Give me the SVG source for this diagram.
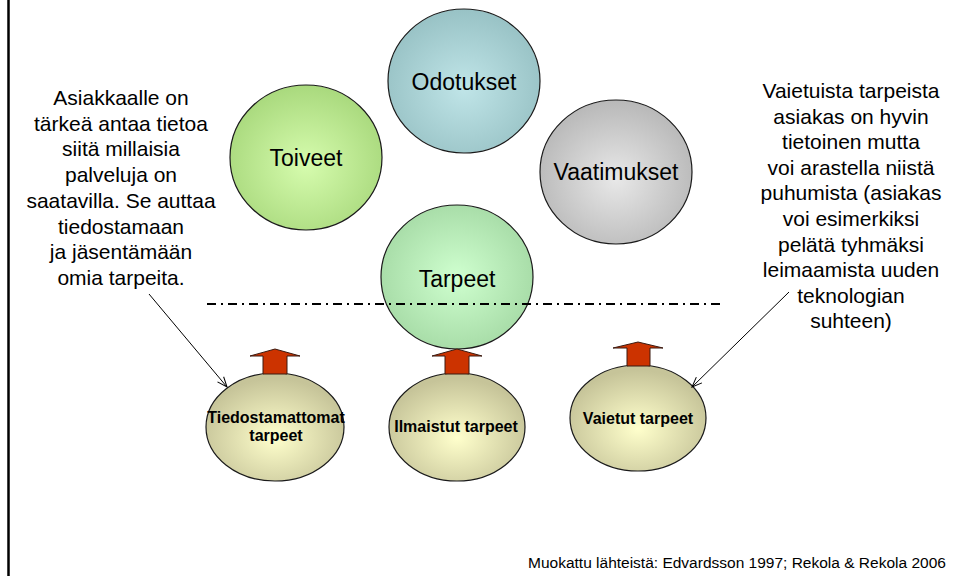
<svg xmlns="http://www.w3.org/2000/svg" width="959" height="576" viewBox="0 0 959 576">
<defs>
<radialGradient id="gBlue" cx="50%" cy="55%" r="55%"><stop offset="0" stop-color="#C0E5E8"/><stop offset="1" stop-color="#98C2C5"/></radialGradient>
<radialGradient id="gLime" cx="50%" cy="55%" r="55%"><stop offset="0" stop-color="#D6FCAE"/><stop offset="1" stop-color="#A9D97D"/></radialGradient>
<radialGradient id="gGray" cx="50%" cy="55%" r="55%"><stop offset="0" stop-color="#E8E8E8"/><stop offset="1" stop-color="#B8B8B8"/></radialGradient>
<radialGradient id="gMint" cx="50%" cy="50%" r="55%"><stop offset="0" stop-color="#CFFFCF"/><stop offset="1" stop-color="#A5DAA5"/></radialGradient>
<radialGradient id="gKhaki" cx="50%" cy="60%" r="55%"><stop offset="0" stop-color="#FFFFCC"/><stop offset="1" stop-color="#C6C499"/></radialGradient>
<marker id="open" markerWidth="12" markerHeight="10" refX="11" refY="5" orient="auto" markerUnits="userSpaceOnUse"><path d="M1,1 L11,5 L1,9" fill="none" stroke="#000" stroke-width="1"/></marker>
</defs>
<style>
.c{stroke:#1a1a1a;stroke-width:1.2}
.t{font-family:"Liberation Sans",Arial,sans-serif;fill:#000;text-anchor:middle}
.big{font-size:23px}
.side{font-size:21px}
.b{font-size:16px;font-weight:bold}
.arr{fill:#CC3300;stroke:#3a1a10;stroke-width:1}
.ptr{stroke:#000;stroke-width:1;fill:none}
</style>
<rect width="959" height="576" fill="#fff"/>
<line x1="8.5" y1="0" x2="8.5" y2="576" stroke="#000" stroke-width="2.5"/>

<g id="text-left" class="t side">
<text x="121" y="105">Asiakkaalle on</text>
<text x="121" y="130.7">tärkeä antaa tietoa</text>
<text x="121" y="156.4">siitä millaisia</text>
<text x="121" y="182.1">palveluja on</text>
<text x="121" y="207.8">saatavilla. Se auttaa</text>
<text x="121" y="233.5">tiedostamaan</text>
<text x="121" y="259.2">ja jäsentämään</text>
<text x="121" y="285">omia tarpeita.</text>
</g>

<g id="text-right" class="t side">
<text x="851" y="98">Vaietuista tarpeista</text>
<text x="851" y="123.6">asiakas on hyvin</text>
<text x="851" y="149.2">tietoinen mutta</text>
<text x="851" y="174.8">voi arastella niistä</text>
<text x="851" y="200.4">puhumista (asiakas</text>
<text x="851" y="226">voi esimerkiksi</text>
<text x="851" y="251.6">pelätä tyhmäksi</text>
<text x="851" y="277.2">leimaamista uuden</text>
<text x="851" y="302.8">teknologian</text>
<text x="851" y="328.4">suhteen)</text>
</g>

<g id="odotukset"><ellipse class="c" cx="464" cy="81" rx="76" ry="72" fill="url(#gBlue)"/><text class="t big" x="464" y="90">Odotukset</text></g>
<g id="toiveet"><ellipse class="c" cx="306" cy="157.5" rx="76" ry="72.5" fill="url(#gLime)"/><text class="t big" x="306" y="166">Toiveet</text></g>
<g id="vaatimukset"><ellipse class="c" cx="616" cy="172" rx="76" ry="72" fill="url(#gGray)"/><text class="t big" x="616" y="180">Vaatimukset</text></g>
<g id="tarpeet"><ellipse class="c" cx="457" cy="277" rx="76" ry="72" fill="url(#gMint)"/><text class="t big" x="457" y="287">Tarpeet</text></g>

<g id="tiedostamattomat"><ellipse class="c" cx="275" cy="427" rx="69" ry="54" fill="url(#gKhaki)"/><text class="t b" x="276" y="423">Tiedostamattomat</text><text class="t b" x="276" y="441">tarpeet</text></g>
<g id="ilmaistut"><ellipse class="c" cx="457" cy="427" rx="68" ry="54" fill="url(#gKhaki)"/><text class="t b" x="456" y="432">Ilmaistut tarpeet</text></g>
<g id="vaietut"><ellipse class="c" cx="638" cy="418" rx="68" ry="53" fill="url(#gKhaki)"/><text class="t b" x="638" y="424">Vaietut tarpeet</text></g>

<g id="connectors">
<line x1="207" y1="304" x2="722" y2="304" stroke="#000" stroke-width="2" stroke-dasharray="9 5 2 5"/>
<path class="arr" d="M275,349 L300,356 L287,356 L287,374 L263,374 L263,356 L250,356 Z"/>
<path class="arr" d="M457,349 L482,356 L469,356 L469,374 L445,374 L445,356 L432,356 Z"/>
<path class="arr" d="M638,342 L663,348 L650,348 L650,366 L627,366 L627,348 L613,348 Z"/>
<line class="ptr" x1="149" y1="294" x2="227" y2="387" marker-end="url(#open)"/>
<line class="ptr" x1="789" y1="292" x2="692" y2="387" marker-end="url(#open)"/>
</g>

<text class="t" x="528" y="568" style="text-anchor:start;font-size:15.5px">Muokattu lähteistä: Edvardsson 1997; Rekola &amp; Rekola 2006</text>
</svg>
